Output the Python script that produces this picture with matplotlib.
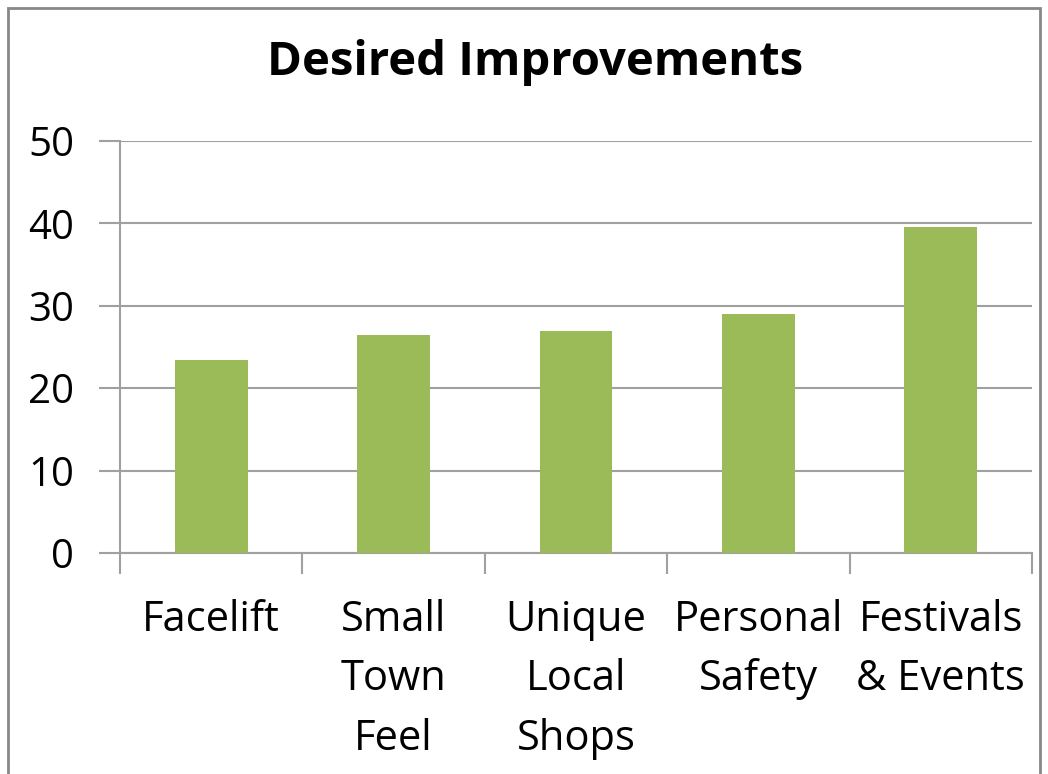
import matplotlib
matplotlib.use('Agg')
import matplotlib.pyplot as plt
from matplotlib.patches import Rectangle
import numpy as np

categories = ['Facelift', 'Small\nTown\nFeel', 'Unique\nLocal\nShops', 'Personal\nSafety', 'Festivals\n& Events']
values = [23.4, 26.4, 27.0, 29.0, 39.6]
yticks = [0, 10, 20, 30, 40, 50]

plt.rcParams['font.family'] = ['Open Sans', 'DejaVu Sans']
grid_col = '#a0a0a0'
bar_col = '#9bbb59'

fig = plt.figure(figsize=(10.48, 7.74), dpi=100)
ax = fig.add_axes([120 / 1048, 221 / 774, 912 / 1048, 412 / 774])

x = np.arange(len(categories))
ax.bar(x, values, width=0.4, color=bar_col, zorder=3)

ax.set_xlim(-0.5, len(categories) - 0.5)
ax.set_ylim(0, 50)
ax.set_yticks(yticks)
ax.set_yticklabels([str(v) for v in yticks], fontsize=29)
ax.tick_params(axis='y', length=15, width=1.5, color=grid_col, pad=18)
ax.yaxis.grid(True, color=grid_col, linewidth=1.5, zorder=0)

# category boundaries get the tick marks, labels sit in the middle
ax.set_xticks(np.arange(len(categories) + 1) - 0.5)
ax.set_xticklabels([])
ax.tick_params(axis='x', length=15, width=1.5, color=grid_col)
for i, lab in enumerate(categories):
    ax.text(i, -5.6, lab, ha='center', va='top', fontsize=30, linespacing=1.54)

for s in ['top', 'right']:
    ax.spines[s].set_visible(False)
for s in ['left', 'bottom']:
    ax.spines[s].set_color(grid_col)
    ax.spines[s].set_linewidth(1.5)

fig.text(535 / 1048, 1 - 63 / 774, 'Desired Improvements', ha='center', va='center',
         fontsize=34, fontweight='bold')

fig.patches.append(Rectangle((8 / 1048, -0.05), 1032 / 1048, 1.05 - 8 / 774, transform=fig.transFigure,
                             fill=False, edgecolor='#888888', linewidth=2))

plt.savefig('out.png', dpi=100)
